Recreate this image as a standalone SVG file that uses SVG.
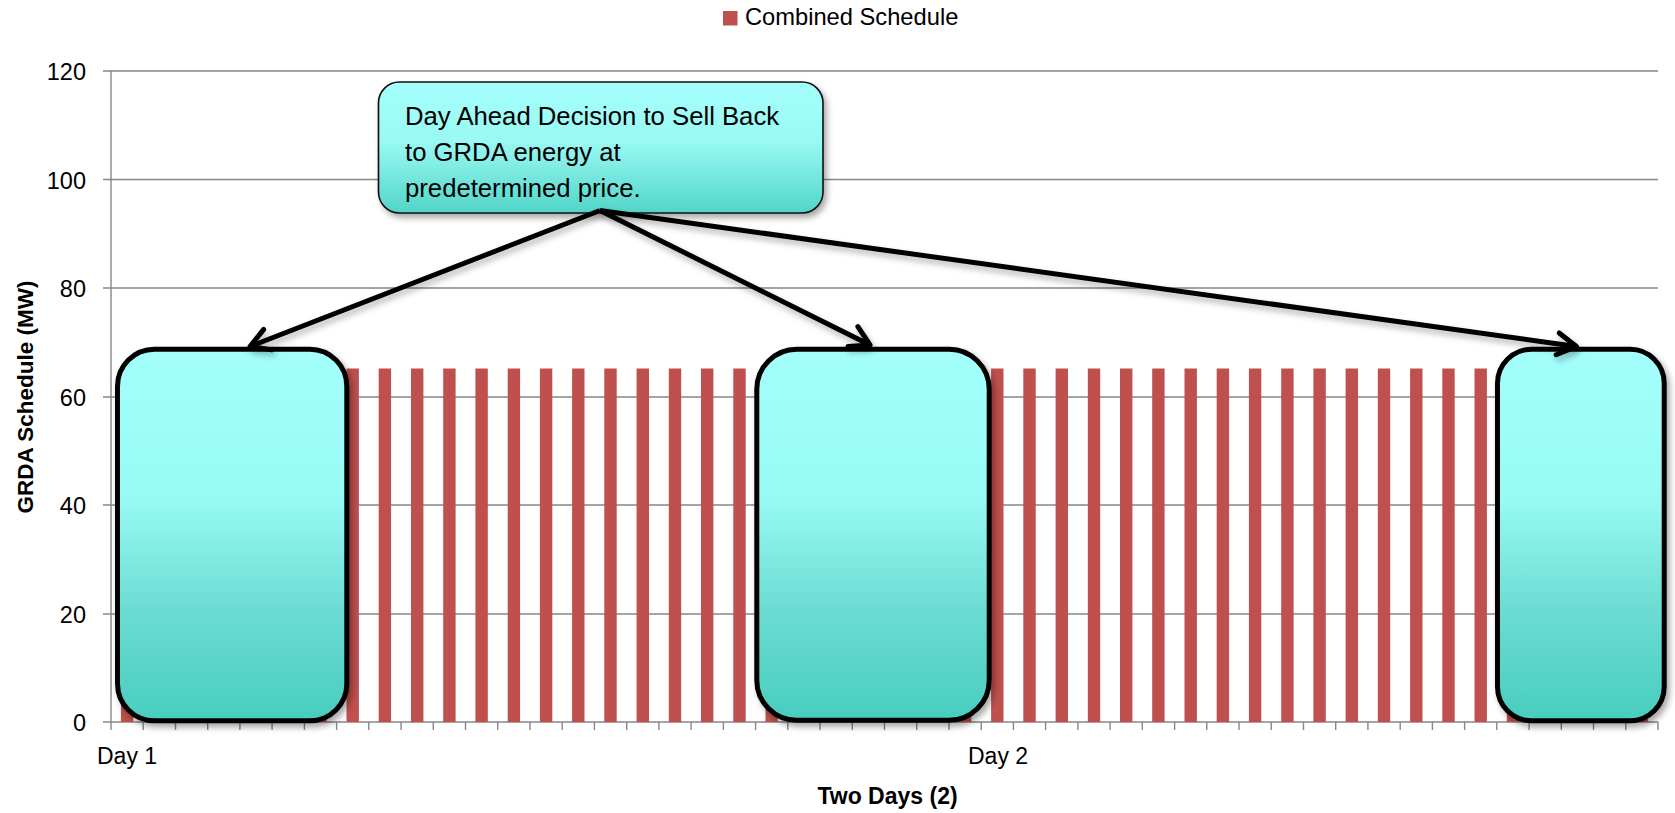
<svg xmlns="http://www.w3.org/2000/svg" width="1675" height="813" viewBox="0 0 1675 813">
<defs>
<style>
.grid{stroke:#878787;stroke-width:1.4;fill:none}
.bar{fill:#c0504d}
.box{fill:url(#cyan);stroke:#000;stroke-width:5;filter:url(#shadow)}
.callout{fill:url(#cyan2);stroke:#111;stroke-width:1.6;filter:url(#shadow)}
.tick{font-family:"Liberation Sans",Arial,sans-serif;font-size:23.5px;fill:#000}
.lbl{font-family:"Liberation Sans",Arial,sans-serif;font-size:23px;fill:#000}
.title{font-family:"Liberation Sans",Arial,sans-serif;font-weight:bold;fill:#000}
.ctext{font-family:"Liberation Sans",Arial,sans-serif;font-size:25.7px;fill:#000}
.conn{stroke:#000;stroke-width:5;fill:none;marker-end:url(#chev)}
</style>
<linearGradient id="cyan" x1="0" y1="0" x2="0" y2="1">
<stop offset="0" stop-color="#a4fffc"/>
<stop offset="0.4" stop-color="#98faf4"/>
<stop offset="0.7" stop-color="#6cdcd3"/>
<stop offset="1" stop-color="#48cdbf"/>
</linearGradient>
<linearGradient id="cyan2" x1="0" y1="0" x2="0" y2="1">
<stop offset="0" stop-color="#a4fffc"/>
<stop offset="0.45" stop-color="#9af9f4"/>
<stop offset="1" stop-color="#52d5c8"/>
</linearGradient>
<filter id="shadow" x="-10%" y="-10%" width="125%" height="125%">
<feDropShadow dx="3" dy="4" stdDeviation="3" flood-color="#000" flood-opacity="0.35"/>
</filter>
<filter id="lshadow" x="-5%" y="-20%" width="115%" height="150%">
<feDropShadow dx="2" dy="4" stdDeviation="3" flood-color="#000" flood-opacity="0.3"/>
</filter>
<marker id="chev" markerUnits="userSpaceOnUse" viewBox="-25 -15 30 30" markerWidth="30" markerHeight="30" refX="0" refY="0" orient="auto" overflow="visible">
<path d="M-19,-11 L0,0 L-19,11" fill="none" stroke="#000" stroke-width="5" stroke-linecap="round" stroke-linejoin="round"/>
</marker>
</defs>
<rect width="1675" height="813" fill="#fff"/>

<g id="legend">
<rect x="723" y="11" width="14.5" height="14.5" class="bar"/>
<text x="745" y="25" class="lbl" style="font-size:23.7px">Combined Schedule</text>
</g>

<g id="axes">
<path class="grid" d="M103,71H1658M103,179.5H1658M103,288H1658M103,397H1658M103,505H1658M103,614H1658M103,722H1658M111,71V722"/>
<path class="grid" d="M111,722v8M143.2,722v8M175.5,722v8M207.7,722v8M239.9,722v8M272.1,722v8M304.4,722v8M336.6,722v8M368.8,722v8M401.1,722v8M433.3,722v8M465.5,722v8M497.7,722v8M530,722v8M562.2,722v8M594.4,722v8M626.7,722v8M658.9,722v8M691.1,722v8M723.4,722v8M755.6,722v8M787.8,722v8M820,722v8M852.3,722v8M884.5,722v8M916.7,722v8M949,722v8M981.2,722v8M1013.4,722v8M1045.6,722v8M1077.9,722v8M1110.1,722v8M1142.3,722v8M1174.6,722v8M1206.8,722v8M1239,722v8M1271.2,722v8M1303.5,722v8M1335.7,722v8M1367.9,722v8M1400.2,722v8M1432.4,722v8M1464.6,722v8M1496.8,722v8M1529.1,722v8M1561.3,722v8M1593.5,722v8M1625.8,722v8M1658,722v8"/>
<g class="tick" text-anchor="end">
<text x="86" y="80">120</text>
<text x="86" y="188.5">100</text>
<text x="86" y="297">80</text>
<text x="86" y="406">60</text>
<text x="86" y="514">40</text>
<text x="86" y="623">20</text>
<text x="86" y="731">0</text>
</g>
<text x="97" y="764" class="lbl">Day 1</text>
<text x="968" y="764" class="lbl">Day 2</text>
<text x="887.5" y="804" class="title" style="font-size:23px" text-anchor="middle">Two Days (2)</text>
<text transform="translate(33,397) rotate(-90)" class="title" style="font-size:22.5px" text-anchor="middle">GRDA Schedule (MW)</text>
</g>

<g id="bars">
<rect class="bar" x="120.9" y="368.5" width="12.4" height="353.5"/>
<rect class="bar" x="153.1" y="368.5" width="12.4" height="353.5"/>
<rect class="bar" x="185.4" y="368.5" width="12.4" height="353.5"/>
<rect class="bar" x="217.6" y="368.5" width="12.4" height="353.5"/>
<rect class="bar" x="249.8" y="368.5" width="12.4" height="353.5"/>
<rect class="bar" x="282.1" y="368.5" width="12.4" height="353.5"/>
<rect class="bar" x="314.3" y="368.5" width="12.4" height="353.5"/>
<rect class="bar" x="346.5" y="368.5" width="12.4" height="353.5"/>
<rect class="bar" x="378.7" y="368.5" width="12.4" height="353.5"/>
<rect class="bar" x="411" y="368.5" width="12.4" height="353.5"/>
<rect class="bar" x="443.2" y="368.5" width="12.4" height="353.5"/>
<rect class="bar" x="475.4" y="368.5" width="12.4" height="353.5"/>
<rect class="bar" x="507.7" y="368.5" width="12.4" height="353.5"/>
<rect class="bar" x="539.9" y="368.5" width="12.4" height="353.5"/>
<rect class="bar" x="572.1" y="368.5" width="12.4" height="353.5"/>
<rect class="bar" x="604.3" y="368.5" width="12.4" height="353.5"/>
<rect class="bar" x="636.6" y="368.5" width="12.4" height="353.5"/>
<rect class="bar" x="668.8" y="368.5" width="12.4" height="353.5"/>
<rect class="bar" x="701" y="368.5" width="12.4" height="353.5"/>
<rect class="bar" x="733.3" y="368.5" width="12.4" height="353.5"/>
<rect class="bar" x="765.5" y="368.5" width="12.4" height="353.5"/>
<rect class="bar" x="797.7" y="368.5" width="12.4" height="353.5"/>
<rect class="bar" x="829.9" y="368.5" width="12.4" height="353.5"/>
<rect class="bar" x="862.2" y="368.5" width="12.4" height="353.5"/>
<rect class="bar" x="894.4" y="368.5" width="12.4" height="353.5"/>
<rect class="bar" x="926.6" y="368.5" width="12.4" height="353.5"/>
<rect class="bar" x="958.9" y="368.5" width="12.4" height="353.5"/>
<rect class="bar" x="991.1" y="368.5" width="12.4" height="353.5"/>
<rect class="bar" x="1023.3" y="368.5" width="12.4" height="353.5"/>
<rect class="bar" x="1055.6" y="368.5" width="12.4" height="353.5"/>
<rect class="bar" x="1087.8" y="368.5" width="12.4" height="353.5"/>
<rect class="bar" x="1120" y="368.5" width="12.4" height="353.5"/>
<rect class="bar" x="1152.2" y="368.5" width="12.4" height="353.5"/>
<rect class="bar" x="1184.5" y="368.5" width="12.4" height="353.5"/>
<rect class="bar" x="1216.7" y="368.5" width="12.4" height="353.5"/>
<rect class="bar" x="1248.9" y="368.5" width="12.4" height="353.5"/>
<rect class="bar" x="1281.2" y="368.5" width="12.4" height="353.5"/>
<rect class="bar" x="1313.4" y="368.5" width="12.4" height="353.5"/>
<rect class="bar" x="1345.6" y="368.5" width="12.4" height="353.5"/>
<rect class="bar" x="1377.8" y="368.5" width="12.4" height="353.5"/>
<rect class="bar" x="1410.1" y="368.5" width="12.4" height="353.5"/>
<rect class="bar" x="1442.3" y="368.5" width="12.4" height="353.5"/>
<rect class="bar" x="1474.5" y="368.5" width="12.4" height="353.5"/>
<rect class="bar" x="1506.8" y="368.5" width="12.4" height="353.5"/>
<rect class="bar" x="1539" y="368.5" width="12.4" height="353.5"/>
<rect class="bar" x="1571.2" y="368.5" width="12.4" height="353.5"/>
<rect class="bar" x="1603.4" y="368.5" width="12.4" height="353.5"/>
<rect class="bar" x="1635.7" y="368.5" width="12.4" height="353.5"/>
</g>

<g id="box1"><rect class="box" x="117.5" y="349.2" width="229.3" height="371.6" rx="37" ry="37"/></g>
<g id="box2"><rect class="box" x="756.8" y="349.2" width="232.4" height="371" rx="40" ry="40"/></g>
<g id="box3"><rect class="box" x="1497.5" y="349.2" width="166.7" height="371.6" rx="34" ry="34"/></g>

<g id="callout">
<rect class="callout" x="378.5" y="82" width="444.5" height="131" rx="21" ry="21"/>
<text class="ctext" x="405" y="125">Day Ahead Decision to Sell Back</text>
<text class="ctext" x="405" y="161">to GRDA energy at</text>
<text class="ctext" x="405" y="197">predetermined price.</text>
</g>

<g id="connectors" filter="url(#lshadow)">
<line class="conn" x1="600" y1="210.5" x2="250" y2="346.5"/>
<line class="conn" x1="600" y1="210.5" x2="870" y2="345"/>
<line class="conn" x1="600" y1="210.5" x2="1576.5" y2="346.5"/>
</g>
</svg>
